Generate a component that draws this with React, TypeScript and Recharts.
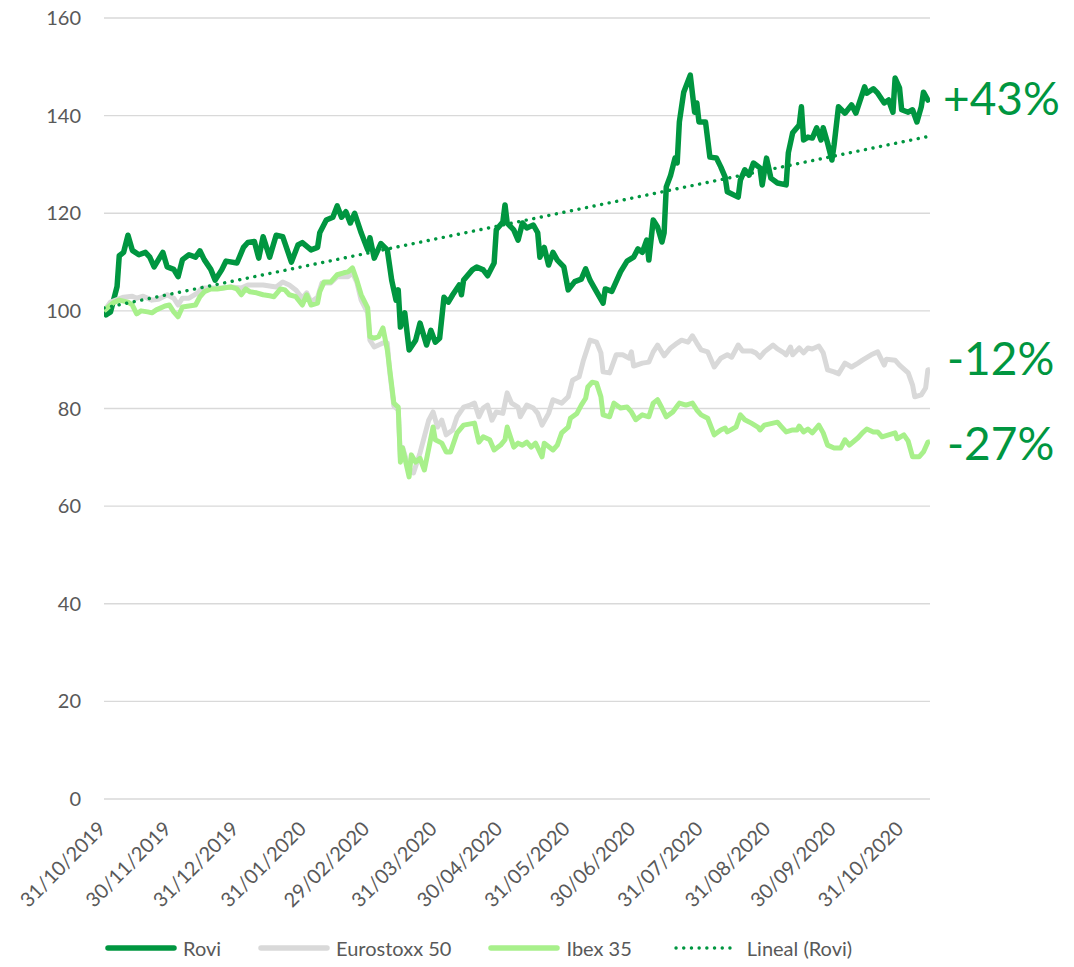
import React from 'react';
import { LineChart, Line, XAxis, YAxis, CartesianGrid, Legend } from 'recharts';

const FONT = 'Lato, "Open Sans", sans-serif';
const TEXT_GREY = '#595959';
const ROVI_COLOR = '#009640';
const STOXX_COLOR = '#D9D9D9';
const IBEX_COLOR = '#A8F08B';

// X tick labels (month ends) – the axis is a date axis, positions in days since 31/10/2019
const xTickLabels = [
  '31/10/2019', '30/11/2019', '31/12/2019', '31/01/2020', '29/02/2020', '31/03/2020',
  '30/04/2020', '31/05/2020', '30/06/2020', '31/07/2020', '31/08/2020', '30/09/2020', '31/10/2020',
];
const yTicks = [0, 20, 40, 60, 80, 100, 120, 140, 160];
const lastDay = 379; // 13/11/2020

// Rovi (base 100)
const roviDays = [0,1,3,6,7,9,11,13,16,19,21,23,25,27,29,32,34,36,39,42,44,46,49,51,54,56,61,64,66,69,71,73,76,79,82,86,89,91,95,98,99,102,105,107,109,111,113,115,118,121,122,124,127,130,132,134,135,136,138,140,143,145,146,148,150,152,154,156,158,160,163,164,165,169,171,174,176,179,180,183,184,185,188,190,192,194,197,199,200,202,204,206,208,211,213,216,219,221,223,225,229,230,233,235,237,240,243,245,247,249,250,252,254,256,257,258,260,262,263,264,266,269,271,272,273,276,278,281,283,285,286,291,292,294,296,298,301,302,304,306,309,313,314,316,319,320,321,323,325,327,329,330,332,334,335,337,340,343,345,349,350,353,355,358,360,362,363,365,366,369,371,373,375,376,378,379];
const roviValues = [100,99.2,99.8,105,111.3,112,115.5,112.4,111.5,112,111,109,110.5,112,109,108.5,107,110.5,111.5,111,112.3,110.5,108.5,106.3,108.4,110.2,109.8,113,114,114.2,110.8,115.2,111,115.5,115.2,110,113.5,114,112.5,113,116,118.6,119.2,121.5,119.2,120.3,118,120,116,112.5,115,110.8,113.8,112.5,106.3,102.2,104.3,96.7,99.6,92,94,97.5,96,93,96,93.6,94.4,102.8,101.8,103.3,105.3,103.3,106.3,108.4,109,108.4,107.2,109.8,116.6,118.2,121.7,118,116.6,114.5,118,117,117.6,116,111,113,109.4,112,110.4,109,104.3,106,106.5,108.6,106.3,104.7,101.6,104.5,104,106,108,110.2,111,112.7,112,114.5,110.4,118.6,117.2,114.1,116,125.4,127.8,131.3,130.3,138.7,144.8,148.3,140.7,142.6,138.7,138.7,131.5,131.3,129.5,127.4,124.4,123.3,126.8,128.9,127.8,130.3,129.3,125.8,131.3,127.2,126.2,125.8,132.4,136.5,138.1,141.8,135,135.6,135.4,137.5,135,137.5,134.4,130.9,134,141.8,140.5,142.2,140.5,145.9,144.6,145.5,144.6,142.6,143.2,140.7,147.7,145.7,141.2,140.7,141.2,138.7,141.8,144.8,143.2,143.5];

// Eurostoxx 50 (base 100)
const stoxxDays = [0,3,9,13,15,18,22,25,29,32,34,36,39,43,45,50,54,58,63,66,73,79,82,85,88,91,93,95,98,100,104,107,112,114,116,118,121,122,124,128,130,131,133,135,136,137,140,142,145,149,151,153,155,157,160,162,165,168,170,172,174,176,178,180,183,185,187,190,191,194,197,199,201,204,206,210,213,215,218,220,223,226,228,229,232,235,238,241,242,243,247,250,252,254,257,260,263,265,268,270,272,274,277,280,283,286,288,291,293,297,299,301,303,307,309,312,313,315,316,319,321,323,325,328,330,332,335,337,340,343,346,348,352,355,358,359,363,365,369,371,372,375,377,378,379];
const stoxxValues = [100,101.8,102.8,103,102.6,103,102.2,102.4,103.3,102.6,101.2,102.6,102.6,103.7,104.7,104.7,104.7,104.9,104.7,105.3,105.3,104.9,105.9,105.3,104.3,102.6,103.7,101.8,102.8,105.7,105.7,107,107,107.8,105.9,102.2,99.6,94,92.6,93.4,93.4,87.9,80.5,79.7,70,72,67.5,66.8,70.9,77.6,79.3,76.2,77.6,74.6,75.6,78.3,80.3,80.7,81.1,78.3,80.1,80.7,77.6,79.3,79,83.2,81.1,80.3,78.3,80.7,80.1,79,76.6,79,81.8,81.1,82.4,85.8,86.5,89.9,94,93.6,91.4,87.5,87.3,91,91,90.3,91.6,88.7,89.3,89.5,91.6,93,90.8,92.4,93.4,94,93.6,94.9,93.4,92,91.6,88.5,90.3,91,90.5,93,91.8,91.8,91.4,90.5,91.6,93,92.2,91.4,91,92.6,91,92.4,91.4,92.4,92.2,92.8,91.4,87.9,87.5,87.1,89.3,88.5,89.3,89.9,91,91.6,88.9,90.1,89.9,88.9,87.3,84.8,82.4,82.8,84.2,87.9,88];

// Ibex 35 (base 100)
const ibexDays = [0,4,7,11,13,15,17,20,22,24,28,30,32,34,36,39,42,44,46,49,52,55,58,61,63,65,67,70,73,76,78,81,83,85,88,91,93,95,98,99,101,104,107,110,112,114,116,118,121,122,124,126,128,130,133,135,136,137,140,141,143,145,147,151,152,155,157,159,162,165,170,172,174,177,179,182,184,185,188,190,192,194,196,198,201,202,206,208,210,213,214,217,219,221,222,224,226,228,229,232,234,237,240,242,244,247,250,252,254,256,258,261,263,264,267,270,272,274,277,280,283,285,286,290,292,294,297,300,301,303,307,309,311,313,316,318,319,321,323,325,328,330,332,335,338,340,342,346,348,350,353,355,357,360,363,364,367,369,371,374,376,378,379];
const ibexValues = [100,101.6,102.2,101.8,101.2,99.4,100,99.8,99.6,100.2,101,101.2,99.8,98.8,100.8,101,101.2,102.9,103.9,104.5,104.5,104.7,104.9,104.5,103.3,104.5,103.9,103.7,103.3,103.1,102.9,104.5,104.3,103.3,102.9,101.2,103.3,101.2,101.6,103.9,105.9,105.9,107.4,107.8,108,108.8,106.3,103.3,100.6,94.7,94.4,94.7,96.5,92,81.1,80.3,69,71.9,66,70.5,69,69.8,67.4,76.2,73.6,72.9,71.1,71.1,75,76.6,77,73.1,74.2,73.6,71.5,72.5,73.6,76.2,72.1,72.9,72.5,73.1,72.1,72.9,70.1,72.9,71.5,72.5,75,76.2,78,79,80.7,82.1,84.4,85.4,85.2,82.4,78.7,78.3,81.1,80.1,80.3,79.3,77.7,78.7,78.3,81.1,81.8,80.1,78.3,79.3,80.5,81.1,80.7,81.1,79.7,78.7,78,74.6,75.6,76,75.2,76.2,78.7,77.7,77,76.2,75.6,76.6,77,77.2,76.2,75.2,75.6,75.6,76.4,75.2,75.8,75,76.6,75,72.5,71.9,71.9,73.6,72.5,74,75,75.8,75.2,75.2,74.2,74.6,75,73.8,74.6,73.3,70.1,70.1,71.1,73.1,73.2];

// Linear trend of Rovi (end points)
const trendDays = [0, 379];
const trendValues = [100.6, 135.8];

// Right-hand annotations
const annotations = ['+43%', '-12%', '-27%'];

const toData = (days: number[], values: number[]) => days.map((d, i) => ({ day: d, v: values[i] }));
const roviData = toData(roviDays, roviValues);
const stoxxData = toData(stoxxDays, stoxxValues);
const ibexData = toData(ibexDays, ibexValues);
const trendData = toData(trendDays, trendValues);

const dayOf = (label: string) => {
  const [d, m, y] = label.split('/').map(Number);
  return Math.round((Date.UTC(y, m - 1, d) - Date.UTC(2019, 9, 31)) / 86400000);
};
const tickDays = xTickLabels.map(dayOf);
const labelByDay = new Map<number, string>(tickDays.map((d, i) => [d, xTickLabels[i]]));

const XTick = (props: any) => {
  const { x, y, payload } = props;
  return (
    <g transform={`translate(${x + 3},${y})`}>
      <text x={0} y={0} textAnchor="end" fill={TEXT_GREY} fontSize={20} fontFamily={FONT} transform="rotate(-45)">
        {labelByDay.get(payload.value)}
      </text>
    </g>
  );
};

const legendItems = [
  { name: 'Rovi', color: ROVI_COLOR, dotted: false },
  { name: 'Eurostoxx 50', color: STOXX_COLOR, dotted: false },
  { name: 'Ibex 35', color: IBEX_COLOR, dotted: false },
  { name: 'Lineal (Rovi)', color: ROVI_COLOR, dotted: true },
];

const LegendContent = () => (
  <div style={{ display: 'flex', alignItems: 'center', paddingLeft: 105, height: 30, fontFamily: FONT, fontSize: 20, color: TEXT_GREY }}>
    {legendItems.map((it, i) => (
      <div key={it.name} style={{ display: 'flex', alignItems: 'center', marginLeft: i === 0 ? 0 : 37 }}>
        <svg width={72} height={10} style={{ display: 'block' }}>
          {it.dotted ? (
            <line x1={7} y1={5} x2={68} y2={5} stroke={it.color} strokeWidth={3.4} strokeLinecap="round" strokeDasharray="0.1 7.6" />
          ) : (
            <line x1={3} y1={5} x2={69} y2={5} stroke={it.color} strokeWidth={5.5} strokeLinecap="round" />
          )}
        </svg>
        <span style={{ marginLeft: 6, lineHeight: '30px' }}>{it.name}</span>
      </div>
    ))}
  </div>
);

export default function App() {
  return (
    <div style={{ position: 'absolute', left: 0, top: 0, width: 1074, height: 967, background: '#fff' }}>
      <LineChart width={1074} height={967} margin={{ top: 18, right: 144, left: 0, bottom: 0 }}>
        <CartesianGrid vertical={false} stroke="#D9D9D9" strokeWidth={1.3} />
        <XAxis
          type="number"
          dataKey="day"
          domain={[0, lastDay]}
          ticks={tickDays}
          interval={0}
          axisLine={false}
          tickLine={false}
          tickSize={0}
          tickMargin={31}
          height={138}
          tick={<XTick />}
          allowDataOverflow
        />
        <YAxis
          type="number"
          domain={[0, 160]}
          ticks={yTicks}
          width={104}
          axisLine={false}
          tickLine={false}
          tickSize={6}
          tickMargin={17}
          tick={{ fill: TEXT_GREY, fontSize: 20, fontFamily: FONT }}
        />
        <Legend
          content={<LegendContent />}
          wrapperStyle={{ position: 'absolute', left: 0, top: 933, width: 1074, height: 30 }}
        />
        <Line data={roviData} dataKey="v" name="Rovi" type="linear" stroke={ROVI_COLOR} strokeWidth={5.5} dot={false} activeDot={false} strokeLinejoin="round" isAnimationActive={false} />
        <Line data={stoxxData} dataKey="v" name="Eurostoxx 50" type="linear" stroke={STOXX_COLOR} strokeWidth={5} dot={false} activeDot={false} strokeLinejoin="round" isAnimationActive={false} />
        <Line data={ibexData} dataKey="v" name="Ibex 35" type="linear" stroke={IBEX_COLOR} strokeWidth={5} dot={false} activeDot={false} strokeLinejoin="round" isAnimationActive={false} />
        <Line data={trendData} dataKey="v" name="Lineal (Rovi)" type="linear" stroke={ROVI_COLOR} strokeWidth={3.4} strokeLinecap="round" strokeDasharray="0.1 7.6" dot={false} activeDot={false} isAnimationActive={false} />
      </LineChart>
      <svg width={1074} height={967} style={{ position: 'absolute', left: 0, top: 0, pointerEvents: 'none' }}>
        <text x={943} y={115} fill={ROVI_COLOR} fontSize={46} fontFamily={FONT}>{annotations[0]}</text>
        <text x={947} y={375} fill={ROVI_COLOR} fontSize={46} fontFamily={FONT}>{annotations[1]}</text>
        <text x={947} y={460} fill={ROVI_COLOR} fontSize={46} fontFamily={FONT}>{annotations[2]}</text>
      </svg>
    </div>
  );
}
